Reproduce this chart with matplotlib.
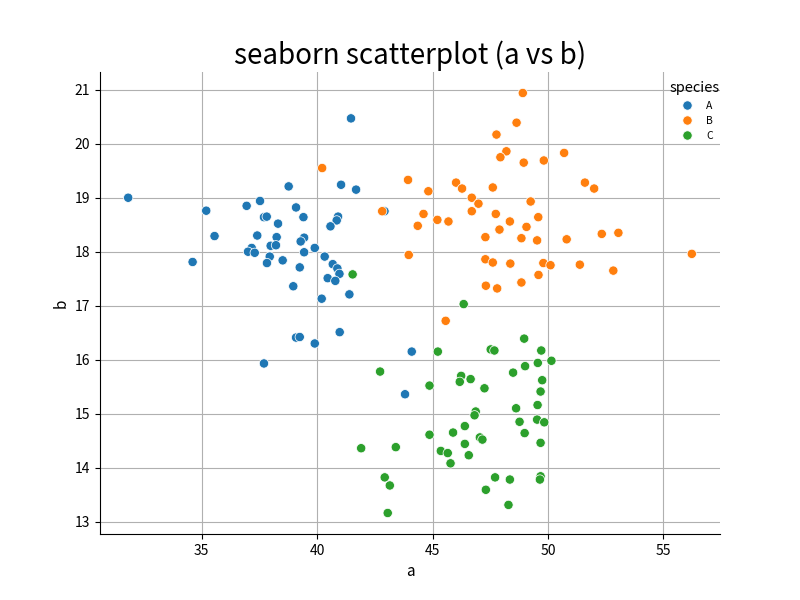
import numpy as np
import pandas as pd
import matplotlib
matplotlib.use('Agg')
import matplotlib.pyplot as plt
import seaborn as sns

# species A
a_A = [41.47, 41.04, 41.69, 31.82, 38.77, 37.53, 36.95, 35.20, 39.09, 37.70,
       37.82, 39.41, 40.91, 40.85, 38.31, 40.58, 35.56, 37.41, 38.25, 39.44,
       39.29, 37.99, 38.22, 39.90, 37.17, 37.01, 37.30, 39.44, 34.61, 37.95,
       37.83, 38.51, 40.33, 40.68, 40.88, 40.97, 39.25, 40.46, 40.79, 38.97,
       41.40, 40.20, 40.98, 39.09, 39.25, 39.90, 37.70, 44.10, 43.81, 42.92]
b_A = [20.47, 19.24, 19.15, 19.00, 19.21, 18.94, 18.85, 18.76, 18.82, 18.64,
       18.65, 18.64, 18.65, 18.58, 18.52, 18.47, 18.29, 18.30, 18.27, 18.26,
       18.19, 18.11, 18.12, 18.07, 18.07, 18.00, 17.98, 17.99, 17.81, 17.91,
       17.79, 17.84, 17.91, 17.77, 17.69, 17.59, 17.71, 17.51, 17.46, 17.36,
       17.21, 17.13, 16.51, 16.41, 16.42, 16.30, 15.93, 16.15, 15.36, 18.75]

# species B
a_B = [40.22, 45.57, 48.91, 48.64, 47.77, 48.20, 47.94, 48.95, 49.82, 50.70,
       43.94, 46.02, 46.28, 47.61, 51.60, 52.00, 44.82, 46.70, 46.99, 49.25,
       42.82, 44.61, 46.70, 47.74, 49.58, 45.21, 45.69, 44.36, 48.35, 49.07,
       47.90, 47.29, 48.85, 49.53, 50.81, 52.33, 53.05, 56.23, 43.97, 47.29,
       47.61, 48.37, 49.80, 50.11, 51.38, 52.83, 49.59, 48.85, 47.31, 47.80]
b_B = [19.55, 16.72, 20.94, 20.39, 20.17, 19.86, 19.75, 19.65, 19.69, 19.83,
       19.33, 19.28, 19.17, 19.19, 19.28, 19.17, 19.12, 19.00, 18.89, 18.93,
       18.75, 18.70, 18.75, 18.70, 18.64, 18.59, 18.56, 18.48, 18.56, 18.46,
       18.41, 18.27, 18.25, 18.21, 18.23, 18.33, 18.35, 17.96, 17.94, 17.86,
       17.80, 17.78, 17.79, 17.75, 17.76, 17.65, 17.57, 17.43, 17.37, 17.32]

# species C
a_C = [41.54, 41.91, 46.35, 45.23, 48.97, 47.52, 47.68, 49.71, 50.15, 49.56,
       49.01, 48.49, 42.73, 46.24, 46.18, 46.65, 49.75, 44.87, 47.25, 49.68,
       48.62, 49.55, 46.87, 46.82, 49.53, 49.84, 48.77, 46.40, 48.99, 44.87,
       45.89, 49.68, 47.05, 47.16, 46.40, 46.57, 45.36, 45.66, 45.78, 43.41,
       42.93, 43.15, 43.06, 47.71, 48.35, 49.68, 49.65, 47.31, 48.29]
b_C = [17.58, 14.36, 17.03, 16.15, 16.39, 16.19, 16.17, 16.17, 15.98, 15.94,
       15.88, 15.76, 15.78, 15.70, 15.59, 15.64, 15.62, 15.52, 15.47, 15.41,
       15.10, 15.16, 15.04, 14.97, 14.89, 14.84, 14.85, 14.77, 14.64, 14.61,
       14.65, 14.46, 14.56, 14.52, 14.44, 14.23, 14.31, 14.27, 14.08, 14.38,
       13.82, 13.67, 13.16, 13.82, 13.78, 13.84, 13.78, 13.59, 13.31]

df = pd.DataFrame({
    'a': a_A + a_B + a_C,
    'b': b_A + b_B + b_C,
    'species': ['A'] * len(a_A) + ['B'] * len(a_B) + ['C'] * len(a_C),
})

plt.rcParams['font.family'] = ['Noto Sans CJK JP', 'DejaVu Sans']

fig = plt.figure(figsize=(8, 6), dpi=100)
ax = fig.add_subplot(111)
ax.set_axisbelow(True)
ax.grid(True, color='#b0b0b0', linewidth=0.8)
sns.scatterplot(data=df, x='a', y='b', hue='species', ax=ax, s=45)
sns.despine(ax=ax)

ax.set_title('seaborn scatterplot (a vs b)', fontsize=20)
ax.set_xlabel('a', fontsize=11)
ax.set_ylabel('b', fontsize=11)
ax.tick_params(labelsize=10)

leg = ax.legend(title='species', loc='upper right', bbox_to_anchor=(1.015, 1.0),
                frameon=False, fontsize=7.5, title_fontsize=10.5, markerscale=1.0)

plt.savefig('out.png', dpi=100)
